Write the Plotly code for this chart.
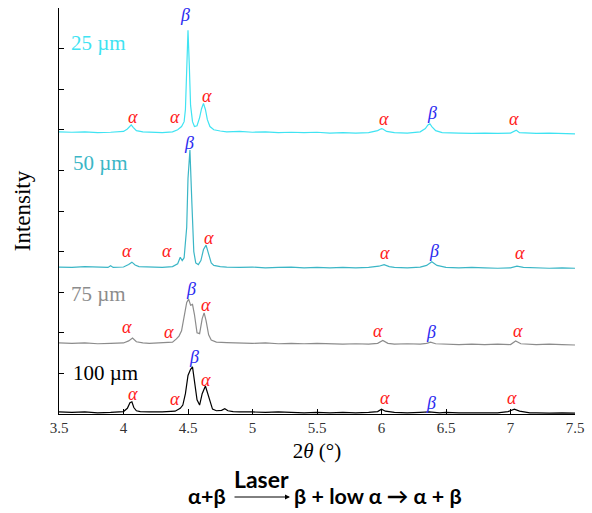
import plotly.graph_objects as go

# ---------------- data ----------------
two_theta_25 = [3.5, 3.6, 3.7, 3.8, 3.9, 3.95, 4.0, 4.03, 4.05, 4.06, 4.075, 4.1, 4.15, 4.2, 4.3, 4.38, 4.42, 4.45, 4.47, 4.48,
                4.49, 4.5, 4.51, 4.52, 4.535, 4.55, 4.57, 4.59, 4.605, 4.62, 4.635, 4.65, 4.67, 4.7, 4.75, 4.8, 4.9, 5.0, 5.1, 5.2,
                5.3, 5.4, 5.5, 5.6, 5.7, 5.8, 5.9, 5.97, 6.0, 6.01, 6.04, 6.1, 6.2, 6.3, 6.34, 6.36, 6.375, 6.39, 6.42, 6.47,
                6.6, 6.7, 6.8, 6.9, 7.0, 7.03, 7.045, 7.07, 7.2, 7.3, 7.4, 7.5]
intensity_25 = [6.95, 6.94, 6.95, 6.93, 6.94, 6.95, 6.96, 7.02, 7.1, 7.12, 7.06, 6.98, 6.95, 6.94, 6.93, 6.95, 7.0, 7.08, 7.2, 7.5,
                8.3, 9.45, 8.6, 7.6, 7.2, 7.08, 7.1, 7.3, 7.52, 7.65, 7.5, 7.25, 7.08, 7.0, 6.97, 6.95, 6.96, 6.94, 6.95, 6.93,
                6.94, 6.93, 6.94, 6.92, 6.93, 6.92, 6.93, 6.98, 7.03, 7.02, 6.96, 6.93, 6.92, 6.95, 7.03, 7.12, 7.15, 7.08, 6.98, 6.93,
                6.92, 6.91, 6.92, 6.91, 6.92, 6.97, 6.99, 6.93, 6.91, 6.92, 6.91, 6.9]

two_theta_50 = [3.5, 3.6, 3.7, 3.8, 3.88, 3.9, 3.92, 4.0, 4.04, 4.065, 4.09, 4.12, 4.2, 4.3, 4.38, 4.42, 4.44, 4.455, 4.47, 4.49,
                4.5, 4.515, 4.53, 4.545, 4.56, 4.58, 4.6, 4.62, 4.64, 4.66, 4.68, 4.7, 4.75, 4.8, 4.9, 5.0, 5.1, 5.2, 5.3, 5.4,
                5.5, 5.6, 5.7, 5.8, 5.9, 5.98, 6.02, 6.06, 6.1, 6.2, 6.3, 6.35, 6.39, 6.43, 6.5, 6.6, 6.7, 6.8, 6.9, 7.0,
                7.05, 7.1, 7.2, 7.3, 7.4, 7.5]
intensity_50 = [3.62, 3.61, 3.63, 3.62, 3.61, 3.65, 3.61, 3.62, 3.68, 3.74, 3.67, 3.63, 3.62, 3.61, 3.63, 3.7, 3.86, 3.78, 3.85, 4.6,
                5.8, 6.5, 5.2, 4.0, 3.72, 3.68, 3.78, 4.05, 4.16, 3.95, 3.72, 3.66, 3.63, 3.62, 3.61, 3.62, 3.6, 3.61, 3.62, 3.6,
                3.61, 3.6, 3.61, 3.6, 3.61, 3.64, 3.68, 3.63, 3.61, 3.6, 3.62, 3.66, 3.75, 3.66, 3.61, 3.6, 3.61, 3.6, 3.59, 3.6,
                3.64, 3.61, 3.6, 3.59, 3.6, 3.59]

two_theta_75 = [3.5, 3.6, 3.7, 3.8, 3.9, 4.0, 4.04, 4.07, 4.1, 4.15, 4.2, 4.3, 4.38, 4.41, 4.43, 4.45, 4.47, 4.49, 4.505, 4.52,
                4.535, 4.55, 4.57, 4.59, 4.61, 4.625, 4.64, 4.66, 4.68, 4.72, 4.8, 4.9, 5.0, 5.1, 5.2, 5.3, 5.4, 5.5, 5.6, 5.7,
                5.8, 5.9, 5.97, 6.01, 6.05, 6.1, 6.2, 6.3, 6.35, 6.38, 6.42, 6.5, 6.6, 6.7, 6.8, 6.9, 7.0, 7.04, 7.08, 7.2,
                7.3, 7.4, 7.5]
intensity_75 = [1.75, 1.74, 1.75, 1.73, 1.74, 1.75, 1.8, 1.87, 1.78, 1.75, 1.74, 1.75, 1.77, 1.85, 1.92, 2.05, 2.4, 2.75, 2.83, 2.68,
                2.7, 2.45, 2.0, 1.98, 2.35, 2.49, 2.3, 1.95, 1.82, 1.77, 1.76, 1.75, 1.74, 1.75, 1.73, 1.74, 1.73, 1.74, 1.73, 1.72,
                1.73, 1.72, 1.74, 1.81, 1.74, 1.72, 1.73, 1.72, 1.74, 1.77, 1.73, 1.72, 1.71, 1.72, 1.71, 1.72, 1.71, 1.8, 1.73, 1.71,
                1.72, 1.71, 1.7]

two_theta_100 = [3.5, 3.6, 3.7, 3.8, 3.9, 4.0, 4.03, 4.05, 4.065, 4.08, 4.1, 4.13, 4.2, 4.3, 4.4, 4.44, 4.46, 4.48, 4.5, 4.52,
                 4.535, 4.55, 4.57, 4.59, 4.61, 4.635, 4.66, 4.69, 4.72, 4.76, 4.785, 4.81, 4.85, 4.9, 5.0, 5.1, 5.2, 5.3, 5.4, 5.5,
                 5.6, 5.7, 5.8, 5.9, 5.97, 6.0, 6.03, 6.1, 6.2, 6.3, 6.37, 6.45, 6.5, 6.6, 6.7, 6.8, 6.9, 6.98, 7.03, 7.07,
                 7.15, 7.2, 7.3, 7.4, 7.5]
intensity_100 = [0.05, 0.04, 0.05, 0.03, 0.04, 0.06, 0.14, 0.28, 0.3, 0.16, 0.08, 0.06, 0.05, 0.05, 0.07, 0.14, 0.22, 0.5, 0.95, 1.1,
                 1.16, 0.85, 0.35, 0.22, 0.5, 0.69, 0.4, 0.12, 0.08, 0.09, 0.13, 0.08, 0.06, 0.05, 0.05, 0.04, 0.05, 0.04, 0.03, 0.04,
                 0.03, 0.04, 0.03, 0.04, 0.06, 0.12, 0.07, 0.04, 0.03, 0.04, 0.05, 0.03, 0.04, 0.03, 0.03, 0.02, 0.03, 0.06, 0.12, 0.07,
                 0.03, 0.03, 0.02, 0.03, 0.02]

sample_names = ["25 µm", "50 µm", "75 µm", "100 µm"]
sample_label_x = [3.58, 3.595, 3.58, 3.595]
sample_label_y = [9.14, 6.18, 2.96, 1.02]

# phase labels
phase_x = [4.07, 4.40, 4.65, 4.48, 6.02, 6.39, 7.03,
           4.03, 4.34, 4.66, 4.51, 6.03, 6.41, 7.07,
           4.03, 4.35, 4.64, 4.52, 5.97, 6.38, 7.06,
           4.075, 4.40, 4.64, 4.55, 6.03, 6.38, 7.01]
phase_y = [7.31, 7.31, 7.83, 9.83, 7.27, 7.41, 7.27,
           4.01, 4.01, 4.33, 6.67, 3.96, 4.01, 3.96,
           2.14, 2.02, 2.68, 3.08, 2.04, 2.02, 2.04,
           0.49, 0.37, 0.84, 1.40, 0.39, 0.27, 0.39]
phase_name = ["α", "α", "α", "β", "α", "β", "α"] * 4

x_ticks = [3.5, 4, 4.5, 5, 5.5, 6, 6.5, 7, 7.5]
x_tick_text = ["3.5", "4", "4.5", "5", "5.5", "6", "6.5", "7", "7.5"]

colors = ["#3FE3F2", "#3BB6C6", "#8C8C8C", "#000000"]

# ---------------- figure ----------------
fig = go.Figure()
series = [(two_theta_25, intensity_25), (two_theta_50, intensity_50),
          (two_theta_75, intensity_75), (two_theta_100, intensity_100)]
for (xs, ys), c, name in zip(series, colors, sample_names):
    fig.add_trace(go.Scatter(x=xs, y=ys, mode="lines", name=name,
                             line=dict(color=c, width=1.2), showlegend=False))

annotations = []
serif = "Liberation Serif"
for name, c, lx, ly in zip(sample_names, colors, sample_label_x, sample_label_y):
    annotations.append(dict(x=lx, y=ly, xref="x", yref="y", text=name, showarrow=False,
                            xanchor="left", yanchor="middle",
                            font=dict(family=serif, size=21, color=c)))
for px_, py_, ph in zip(phase_x, phase_y, phase_name):
    annotations.append(dict(x=px_, y=py_, xref="x", yref="y", text="<i>%s</i>" % ph, showarrow=False,
                            xanchor="center", yanchor="middle",
                            font=dict(family=serif, size=18,
                                      color="#FF2020" if ph == "α" else "#2A2AF0")))

# bottom scheme  α+β --Laser--> β + low α → α + β
bold_font = dict(family="Lato", size=21.5, color="black")
annotations.append(dict(x=(228 - 59) / 516, y=(414 - 496) / 406, xref="paper", yref="paper",
                        text="<b>α+β</b>", showarrow=False, xanchor="right", yanchor="middle", font=bold_font))
annotations.append(dict(x=(261 - 59) / 516, y=(414 - 479) / 406, xref="paper", yref="paper",
                        text="<b>Laser</b>", showarrow=False, xanchor="center", yanchor="middle",
                        font=dict(family="Lato", size=23, color="black")))
annotations.append(dict(x=(290 - 59) / 516, y=(414 - 497) / 406, xref="paper", yref="paper",
                        ax=-57, ay=0, text="", showarrow=True, arrowhead=2, arrowsize=1,
                        arrowwidth=1, arrowcolor="black"))
annotations.append(dict(x=(292 - 59) / 516, y=(414 - 496) / 406, xref="paper", yref="paper",
                        text="<b>β + low α → α + β</b>", showarrow=False, xanchor="left", yanchor="middle",
                        font=bold_font))

fig.update_layout(
    width=592, height=513,
    margin=dict(l=59, r=17, t=8, b=99),
    plot_bgcolor="white", paper_bgcolor="white",
    annotations=annotations,
    xaxis=dict(range=[3.5, 7.5], tickvals=x_ticks, ticktext=x_tick_text,
               ticks="inside", ticklen=5, tickcolor="black", tickwidth=1,
               showline=True, linecolor="black", linewidth=1.2, showgrid=False, zeroline=False,
               tickfont=dict(family=serif, size=15, color="#333"),
               title=dict(text="2<i>θ</i> (°)", font=dict(family=serif, size=21, color="black"), standoff=8)),
    yaxis=dict(range=[0, 10], dtick=1, tick0=0, showticklabels=False,
               ticks="inside", ticklen=5, tickcolor="black", tickwidth=1,
               showline=True, linecolor="black", linewidth=1.2, showgrid=False, zeroline=False,
               title=dict(text="Intensity", font=dict(family=serif, size=23, color="black"), standoff=20)),
)

fig.write_html("out.html", config={"displayModeBar": False},
               post_script="document.body.style.margin='0';document.body.style.overflow='hidden';")
